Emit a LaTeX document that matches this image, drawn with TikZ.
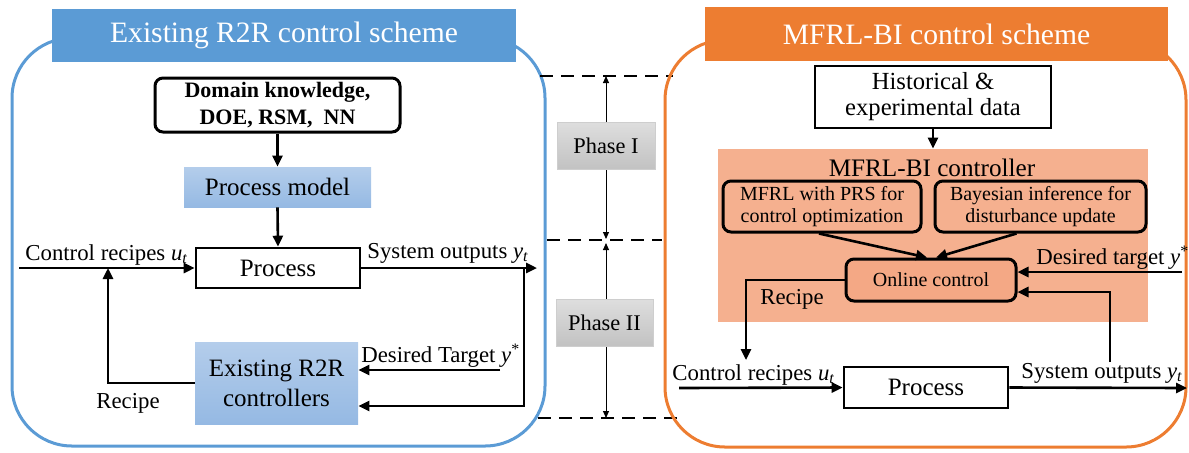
\documentclass[tikz,border=0pt]{standalone}
\usepackage{fontspec}
\setmainfont{Liberation Serif}
\usetikzlibrary{arrows.meta}
\definecolor{blueA}{HTML}{5B9BD5}
\definecolor{orangeA}{HTML}{ED7D31}
\definecolor{peach}{HTML}{F5B08F}
\definecolor{peachbox}{HTML}{F4A885}
\definecolor{lbtop}{HTML}{B4CDEB}
\definecolor{lbbot}{HTML}{95B9E3}
\definecolor{grtop}{HTML}{DEDEDE}
\definecolor{grbot}{HTML}{C2C2C2}
\newcommand{\fsz}[2]{\fontsize{#1}{#2}\selectfont}
\newcommand{\ut}{\textit{u}\textsubscript{\textit{t}}}
\newcommand{\yt}{\textit{y}\textsubscript{\textit{t}}}
\newcommand{\ystar}{\textit{y}\textsuperscript{*}}
\tikzset{
  frame/.style={line width=1.5pt, rounded corners=30pt},
  titlebox/.style={fill=#1, text=white, inner sep=0pt, font=\fsz{14.8pt}{17pt}},
  arr/.style={line width=1.3pt, -{Triangle[length=5.5pt,width=5pt]}},
  thinarr/.style={line width=0.5pt, {Triangle[length=3.5pt,width=3pt]}-{Triangle[length=3.5pt,width=3pt]}},
  lbl/.style={inner sep=0pt, font=\fsz{11.4pt}{13pt}},
  bluebox/.style={top color=lbtop, bottom color=lbbot, inner sep=0pt, align=center, font=\fsz{12.5pt}{15pt}},
  plainbox/.style={draw, line width=1.3pt, fill=white, inner sep=0pt, align=center, font=\fsz{12.5pt}{13pt}},
  roundbox/.style={draw, line width=1.5pt, rounded corners=4pt, inner sep=0pt, align=center},
  phasebox/.style={top color=grtop, bottom color=grbot, draw=grbot!80!white, line width=0.4pt, inner sep=0pt, font=\fsz{11.2pt}{13pt}},
  phasedash/.style={line width=1.3pt, dash pattern=on 6.5pt off 4pt},
}
\begin{document}
\begin{tikzpicture}[x=0.5pt,y=-0.5pt]
\useasboundingbox (0,0) rectangle (1189,452);

% ---------- left panel ----------
\draw[frame, blueA] (12,38) rectangle (545,446);
\node[titlebox=blueA, minimum width=232pt, minimum height=26.5pt] (tl) at (284,35.5) {Existing R2R control scheme};

\node[roundbox, fill=white, minimum width=122.5pt, minimum height=27pt, font=\bfseries\fsz{11pt}{13.5pt}] (dom) at (277.5,105) {Domain knowledge,\\DOE, RSM,~ NN};
\node[bluebox, minimum width=93.5pt, minimum height=20pt] (pm) at (277.5,187) {Process model};
\node[plainbox, minimum width=82pt, minimum height=20pt] (procL) at (278,268) {Process};
\node[bluebox, minimum width=81.5pt, minimum height=41pt] (ctlL) at (276.5,383) {Existing R2R\\controllers};

\coordinate (inL) at (19,268);
\coordinate (outL) at (537,268);
\coordinate (brL) at (524,268);
\coordinate (dtL) at (500,370);
\coordinate (rjL) at (108,268);

\draw[arr] (dom.south) -- (pm.north);
\draw[arr] (pm.south) -- (procL.north);
\draw[arr] (inL) -- (procL.west);
\draw[arr] (procL.east) -- (outL);
\draw[arr] (brL) |- ([yshift=-11.5pt]ctlL.east);
\draw[arr] (dtL) -- ([yshift=6.5pt]ctlL.east);
\draw[arr] (ctlL.west) -| (rjL);

\node[lbl, anchor=base west] (cuL) at (25,260) {Control recipes \ut};
\node[lbl, anchor=base west] (soL) at (367,258) {System outputs \yt};
\node[lbl, anchor=base west] (dtlL) at (361,362) {Desired Target \ystar};
\node[lbl] (rcL) at (128,403) {Recipe};

% ---------- middle ----------
\coordinate (d1a) at (540,76);  \coordinate (d1b) at (673,76);
\coordinate (d2a) at (547,240); \coordinate (d2b) at (662,240);
\coordinate (d3a) at (538,418); \coordinate (d3b) at (677,418);
\draw[phasedash] (d1a) -- (d1b);
\draw[phasedash] (d2a) -- (d2b);
\draw[phasedash] (d3a) -- (d3b);
\coordinate (p1t) at (606,76);  \coordinate (p1b) at (606,239);
\coordinate (p2t) at (606,243); \coordinate (p2b) at (606,418);
\draw[thinarr] (p1t) -- (p1b);
\draw[thinarr] (p2t) -- (p2b);
\node[phasebox, minimum width=49pt, minimum height=23.5pt] (ph1) at (606,145.5) {Phase I};
\node[phasebox, minimum width=48.5pt, minimum height=23.5pt] (ph2) at (604.5,322.5) {Phase II};

% ---------- right panel ----------
\draw[frame, orangeA] (665,40) rectangle (1186,447);
\node[titlebox=orangeA, minimum width=231.5pt, minimum height=27pt] (tr) at (936.5,34) {MFRL-BI control scheme};

\node[plainbox, minimum width=118pt, minimum height=31pt, font=\fsz{12.3pt}{13pt}] (hist) at (933,97) {Historical \&\\experimental data};
\node[fill=peach, inner sep=0pt, minimum width=215pt, minimum height=86.5pt] (area) at (933,235.5) {};
\node[inner sep=0pt, font=\fsz{12.6pt}{14pt}] (areat) at (932,168) {MFRL-BI controller};
\node[roundbox, fill=peach, minimum width=99pt, minimum height=25.5pt, font=\fsz{10pt}{11pt}] (mfrl) at (822,206.5) {MFRL with PRS for\\control optimization};
\node[roundbox, fill=peach, minimum width=105.5pt, minimum height=25.5pt, font=\fsz{10pt}{11pt}] (bay) at (1040.5,206.5) {Bayesian inference for\\disturbance update};
\node[roundbox, fill=peachbox, minimum width=85pt, minimum height=21pt, font=\fsz{10pt}{12pt}] (onl) at (931,280) {Online control};
\node[plainbox, minimum width=82pt, minimum height=20.5pt] (procR) at (926,387.5) {Process};

\coordinate (inR) at (679,388);
\coordinate (outR) at (1187,388);
\coordinate (dtR) at (1182,272);
\coordinate (fbR) at (1110,362);
\coordinate (rjR) at (746,360);

\draw[arr] (hist.south) -- (area.north);
\draw[arr] ([xshift=-1.5pt]mfrl.south) -- ([xshift=-2pt]onl.north);
\draw[arr] ([xshift=-12pt]bay.south) -- ([xshift=2.5pt]onl.north);
\draw[arr] (dtR) -- ([yshift=4pt]onl.east);
\draw[arr] (fbR) |- ([yshift=-6pt]onl.east);
\draw[arr] (onl.west) -| (rjR);
\draw[arr] (inR) -- (procR.west);
\draw[arr] (procR.east) -- (outR);

\node[lbl, anchor=base west] (dtlR) at (1036,264) {Desired target \ystar};
\node[lbl] (rcR) at (792,299) {Recipe};
\node[lbl, anchor=base west] (cuR) at (672,380) {Control recipes \ut};
\node[lbl, anchor=base west] (soR) at (1021,378) {System outputs \yt};
\end{tikzpicture}
\end{document}
